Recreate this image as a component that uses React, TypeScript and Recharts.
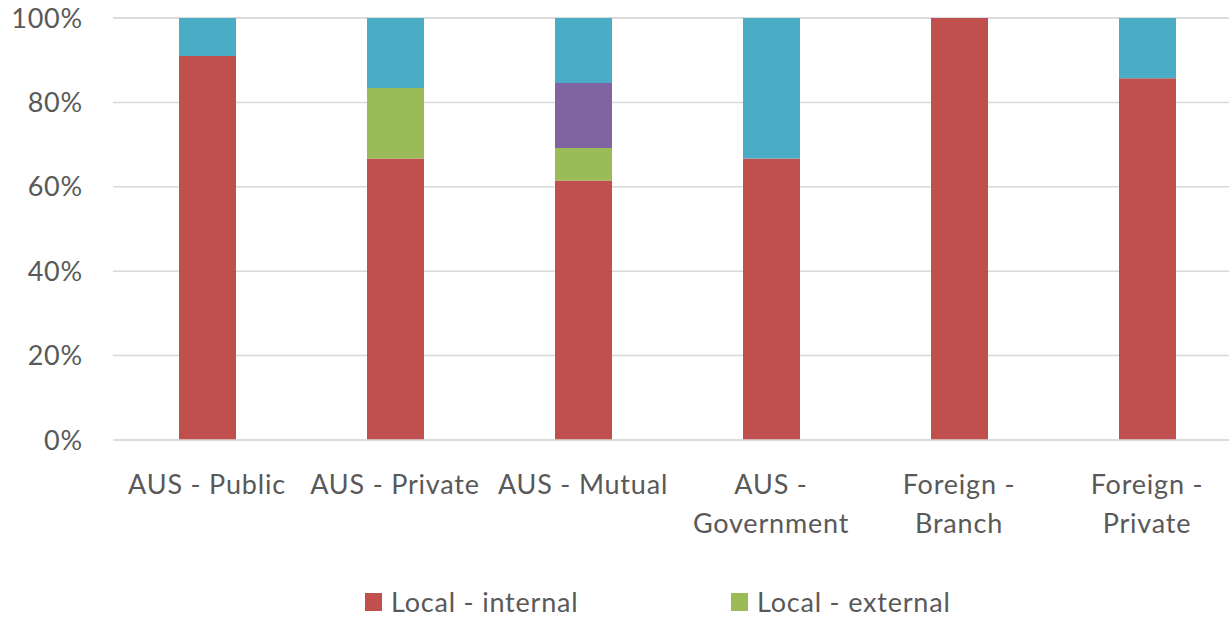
import * as React from 'react';
import { BarChart, Bar, XAxis, YAxis, CartesianGrid, Legend } from 'recharts';

const categories = [
  'AUS - Public',
  'AUS - Private',
  'AUS - Mutual',
  'AUS - Government',
  'Foreign - Branch',
  'Foreign - Private',
];

// shares in %
const localInternal = [91, 66.7, 61.5, 66.7, 100, 85.7];
const localExternal = [0, 16.7, 7.7, 0, 0, 0];
const purpleShare = [0, 0, 15.4, 0, 0, 0];
const blueShare = [9, 16.6, 15.4, 33.3, 0, 14.3];

const yTicks = [0, 20, 40, 60, 80, 100];

const data = categories.map((name, i) => ({
  name,
  internal: localInternal[i],
  external: localExternal[i],
  purple: purpleShare[i],
  blue: blueShare[i],
}));

const FONT = 'Lato, "Open Sans", sans-serif';
const TEXT = '#595959';

function wrapLabel(label: string, maxChars: number) {
  const words = label.split(' ');
  const lines: string[] = [];
  let cur = '';
  for (const w of words) {
    const next = cur ? cur + ' ' + w : w;
    if (next.length > maxChars && cur) {
      lines.push(cur);
      cur = w;
    } else {
      cur = next;
    }
  }
  if (cur) lines.push(cur);
  return lines;
}

function CategoryTick(props: any) {
  const { x, y, payload } = props;
  const lines = wrapLabel(payload.value, 13);
  return (
    <text x={x} y={y} textAnchor="middle" fill={TEXT} fontSize={27} fontFamily={FONT} letterSpacing={0.8}>
      {lines.map((l, i) => (
        <tspan key={i} x={x} y={y + 43 + i * 39} dominantBaseline="central">
          {l}
        </tspan>
      ))}
    </text>
  );
}

function LegendBox() {
  const items = [
    { label: 'Local - internal', color: '#C0504D' },
    { label: 'Local - external', color: '#9BBB59' },
  ];
  return (
    <div style={{ height: 37, position: 'relative', fontFamily: FONT, fontSize: 27, color: TEXT, letterSpacing: 0.8 }}>
      {items.map((it, i) => (
        <div
          key={it.label}
          style={{
            position: 'absolute',
            left: 365 + i * 366,
            top: 12,
            display: 'flex',
            alignItems: 'center',
            whiteSpace: 'nowrap',
            lineHeight: '24px',
          }}
        >
          <span style={{ width: 17, height: 18, background: it.color, display: 'inline-block', marginRight: 9 }} />
          {it.label}
        </div>
      ))}
    </div>
  );
}

export default function App() {
  return (
    <div style={{ position: 'fixed', top: 0, left: 0, width: 1229, height: 617, overflow: 'hidden', background: '#fff' }}>
      <BarChart
        width={1241}
        height={617}
        data={data}
        margin={{ top: 18, right: 0, bottom: 0, left: 0 }}
      >
        <CartesianGrid vertical={false} stroke="#D9D9D9" strokeWidth={1.5} />
        <XAxis
          dataKey="name"
          axisLine={{ stroke: '#D9D9D9', strokeWidth: 1.5 }}
          tickLine={false}
          tickSize={0}
          tickMargin={0}
          height={140}
          interval={0}
          tick={<CategoryTick />}
        />
        <YAxis
          domain={[0, 100]}
          ticks={yTicks}
          tickFormatter={(v) => `${v}%`}
          axisLine={false}
          tickLine={false}
          tickSize={0}
          tickMargin={30}
          width={113}
          tick={{ fill: TEXT, fontSize: 27, fontFamily: FONT, letterSpacing: 0.8 }}
        />
        <Legend
          verticalAlign="bottom"
          content={<LegendBox />}
          wrapperStyle={{ top: 578, left: 0, bottom: undefined }}
        />
        <Bar dataKey="internal" name="Local - internal" stackId="a" fill="#C0504D" barSize={57} isAnimationActive={false} />
        <Bar dataKey="external" name="Local - external" stackId="a" fill="#9BBB59" barSize={57} isAnimationActive={false} />
        <Bar dataKey="purple" name="Series 3" stackId="a" fill="#8064A2" barSize={57} legendType="none" isAnimationActive={false} />
        <Bar dataKey="blue" name="Series 4" stackId="a" fill="#4BACC6" barSize={57} legendType="none" isAnimationActive={false} />
      </BarChart>
    </div>
  );
}
